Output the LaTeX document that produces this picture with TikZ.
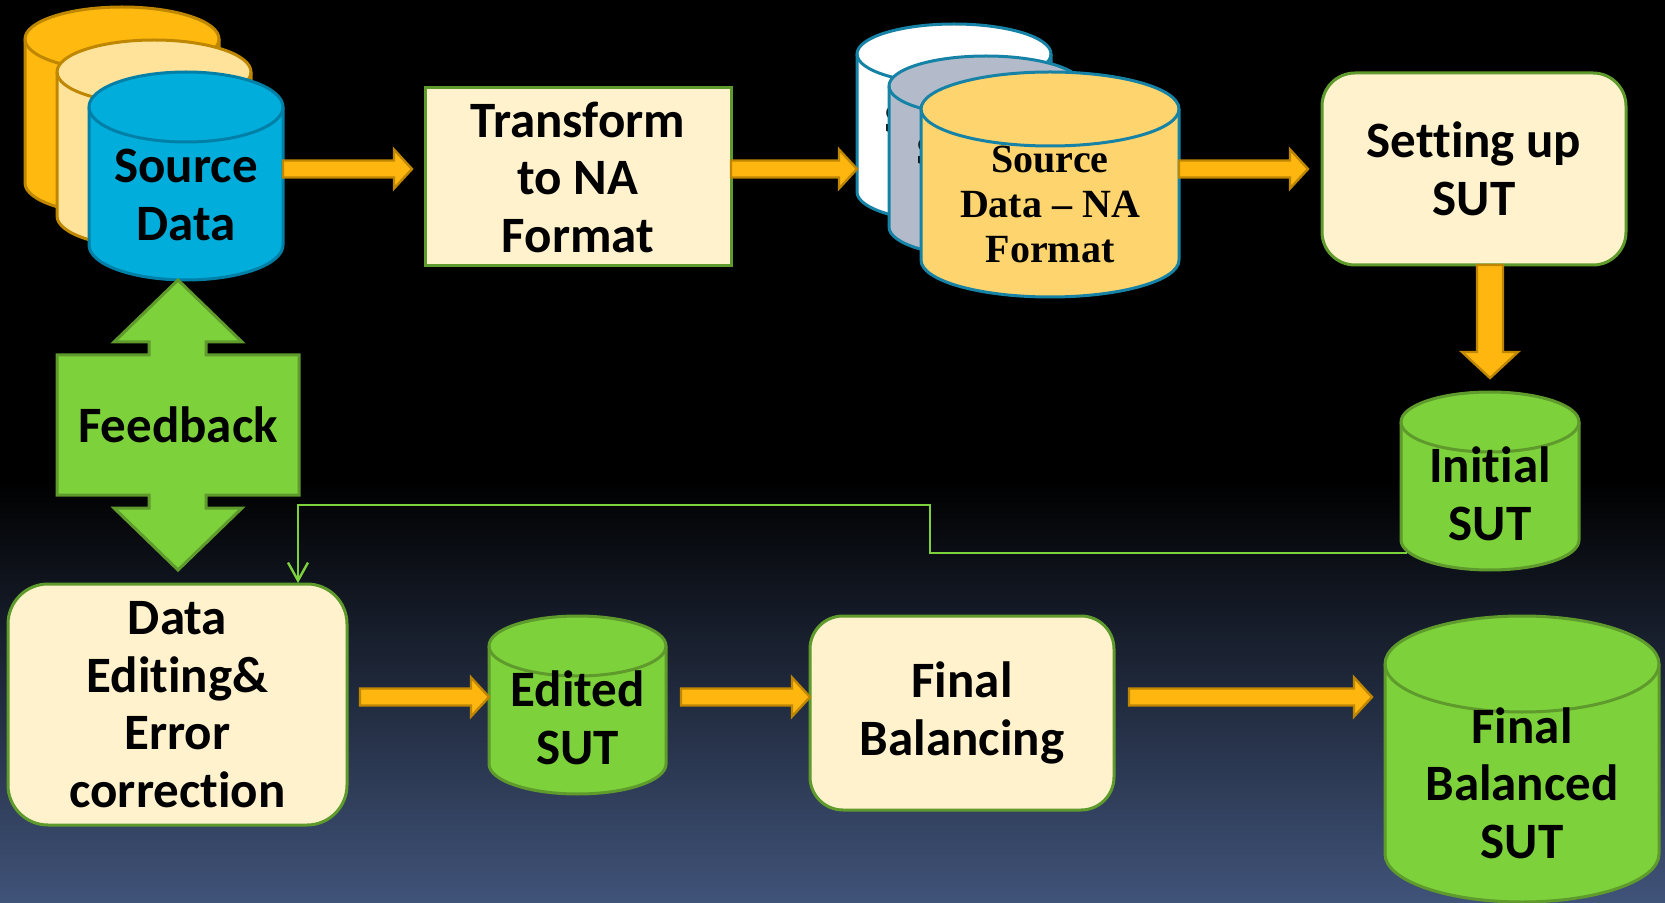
\documentclass[tikz,border=0pt]{standalone}
\usepackage{fontspec}
\setmainfont{Carlito}[Ligatures={TeX,NoCommon}]
\newfontfamily\timesfont{Liberation Serif}
\usetikzlibrary{calc,arrows.meta}

\definecolor{gold}{HTML}{FFB60F}
\definecolor{golddark}{HTML}{BF8700}
\definecolor{cream}{HTML}{FFF2CC}
\definecolor{leaf}{HTML}{7DD13B}
\definecolor{leafdark}{HTML}{5E9A2C}
\definecolor{skyblue}{HTML}{00ADDB}
\definecolor{skydark}{HTML}{0080A6}
\definecolor{orangedb}{HTML}{FFB90F}
\definecolor{creamdb}{HTML}{FFE39B}
\definecolor{slate}{HTML}{B3BBCA}
\definecolor{sand}{HTML}{FED46E}
\definecolor{teal}{HTML}{1683A6}
\definecolor{bgblue}{HTML}{405379}

\tikzset{
  lbl/.style={inner sep=0pt, outer sep=0pt, align=center, font=\fontsize{25.5}{28.75}\selectfont\bfseries},
  box/.style={lbl, draw=leafdark, fill=cream, line width=1.5pt},
  serif/.style={inner sep=0pt, outer sep=0pt, align=center, font=\timesfont\fontsize{20}{22.5}\selectfont\bfseries},
  hfat/.style={fill=gold, draw=golddark, line width=1.2pt,
    to path={let \p1=(\tikztostart), \p2=(\tikztotarget) in
      (\x1,\y1+4.25pt) -- (\x2-9pt,\y1+4.25pt) -- (\x2-9pt,\y1+9.75pt) -- (\x2,\y1)
      -- (\x2-9pt,\y1-9.75pt) -- (\x2-9pt,\y1-4.25pt) -- (\x1,\y1-4.25pt) -- cycle}},
  vfat/.style={fill=gold, draw=golddark, line width=1.2pt,
    to path={let \p1=(\tikztostart), \p2=(\tikztotarget) in
      (\x1-6.5pt,\y1) -- (\x1-6.5pt,\y2+13pt) -- (\x1-14pt,\y2+13pt) -- (\x1,\y2)
      -- (\x1+14pt,\y2+13pt) -- (\x1+6.5pt,\y2+13pt) -- (\x1+6.5pt,\y1) -- cycle}},
  link/.style={draw=leaf, line width=1.2pt, -{Straight Barb[length=9pt,width=10pt]}},
}

\begin{document}
\begin{tikzpicture}[x=0.5pt,y=-0.5pt]
\useasboundingbox (0,0) rectangle (1665,903);
%background
\fill[black] (0,0) rectangle (1665,903);
\shade[top color=black, bottom color=bgblue] (0,480) rectangle (1665,903);

%Source Data stack
\filldraw[fill=orangedb, draw=golddark, line width=1.5pt] (25,39) -- (25,183) arc[start angle=180,end angle=0,x radius=97,y radius=32] -- (219,39) arc[start angle=0,end angle=-180,x radius=97,y radius=32] -- cycle;
\draw[golddark, line width=1.5pt] (25,39) arc[start angle=180,end angle=0,x radius=97,y radius=32];
\filldraw[fill=creamdb, draw=golddark, line width=1.5pt] (57,72) -- (57,216) arc[start angle=180,end angle=0,x radius=97,y radius=32] -- (251,72) arc[start angle=0,end angle=-180,x radius=97,y radius=32] -- cycle;
\draw[golddark, line width=1.5pt] (57,72) arc[start angle=180,end angle=0,x radius=97,y radius=32];
\filldraw[fill=skyblue, draw=skydark, line width=1.5pt] (89,107) -- (89,245) arc[start angle=180,end angle=0,x radius=97,y radius=35] -- (283,107) arc[start angle=0,end angle=-180,x radius=97,y radius=35] -- cycle;
\draw[skydark, line width=1.5pt] (89,107) arc[start angle=180,end angle=0,x radius=97,y radius=35];
\node[lbl, minimum width=97pt] (src) at (186,195) {Source\\Data};

%Transform box
\node[box, minimum width=153pt, minimum height=89pt] (tform) at (578,177) {Transform\\to NA\\Format};

%NA format stack (only a sliver of the back labels shows)
\filldraw[fill=white, draw=teal, line width=1.5pt] (857,54) -- (857,192) arc[start angle=180,end angle=0,x radius=97,y radius=30] -- (1051,54) arc[start angle=0,end angle=-180,x radius=97,y radius=30] -- cycle;
\draw[teal, line width=1.5pt] (857,54) arc[start angle=180,end angle=0,x radius=97,y radius=30];
\node[serif, anchor=base west] (nab) at (884,133) {S};
\filldraw[fill=slate, draw=teal, line width=1.5pt] (889,86) -- (889,227) arc[start angle=180,end angle=0,x radius=97,y radius=30] -- (1083,86) arc[start angle=0,end angle=-180,x radius=97,y radius=30] -- cycle;
\draw[teal, line width=1.5pt] (889,86) arc[start angle=180,end angle=0,x radius=97,y radius=30];
\node[serif, anchor=base west] (nac) at (916,165) {S};
\filldraw[fill=sand, draw=teal, line width=1.5pt] (921,109) -- (921,260) arc[start angle=180,end angle=0,x radius=129,y radius=37] -- (1179,109) arc[start angle=0,end angle=-180,x radius=129,y radius=37] -- cycle;
\draw[teal, line width=1.5pt] (921,109) arc[start angle=180,end angle=0,x radius=129,y radius=37];
\node[serif] (na) at (1050,204) {Source\\Data – NA\\Format};

%Setting up SUT
\node[box, rounded corners=16.5pt, minimum width=152pt, minimum height=96pt] (setup) at (1474,169) {Setting up\\SUT};

%Initial SUT
\filldraw[fill=leaf, draw=leafdark, line width=1.5pt] (1401,422) -- (1401,540) arc[start angle=180,end angle=0,x radius=89,y radius=30] -- (1579,422) arc[start angle=0,end angle=-180,x radius=89,y radius=30] -- cycle;
\draw[leafdark, line width=1.5pt] (1401,422) arc[start angle=180,end angle=0,x radius=89,y radius=30];
\node[lbl, minimum width=89pt] (init) at (1490,494) {Initial\\SUT};

%Feedback double arrow
\filldraw[fill=leaf, draw=leafdark, line width=1.5pt] (178,280) -- (242,342) -- (206,342) -- (206,355) -- (299,355) -- (299,495) -- (206,495) -- (206,508) -- (242,508) -- (178,570) -- (114,508) -- (149,508) -- (149,495) -- (57,495) -- (57,355) -- (149,355) -- (149,342) -- (114,342) -- cycle;
\node[lbl] (fb) at (178,425) {Feedback};

%bottom row
\node[box, rounded corners=20pt, minimum width=169.5pt, minimum height=120.5pt] (edit) at (177.5,704.5) {Data\\Editing\&\\Error\\correction};
\filldraw[fill=leaf, draw=leafdark, line width=1.5pt] (489,646) -- (489,764) arc[start angle=180,end angle=0,x radius=88.5,y radius=30] -- (666,646) arc[start angle=0,end angle=-180,x radius=88.5,y radius=30] -- cycle;
\draw[leafdark, line width=1.5pt] (489,646) arc[start angle=180,end angle=0,x radius=88.5,y radius=30];
\node[lbl, minimum width=88.5pt] (edsut) at (577.5,718) {Edited\\SUT};
\node[box, rounded corners=16.5pt, minimum width=152pt, minimum height=97pt] (fbal) at (962,713) {Final\\Balancing};
\filldraw[fill=leaf, draw=leafdark, line width=1.5pt] (1385,664) -- (1385,854) arc[start angle=180,end angle=0,x radius=137,y radius=48] -- (1659,664) arc[start angle=0,end angle=-180,x radius=137,y radius=48] -- cycle;
\draw[leafdark, line width=1.5pt] (1385,664) arc[start angle=180,end angle=0,x radius=137,y radius=48];
\node[lbl, minimum width=137pt] (final) at (1522,783) {Final\\Balanced\\SUT};

%green feedback line
\draw[link] ($(init.west)+(6,59)$) -| (930,505) -| ($(edit.north)+(120.5,-1)$);

%block arrows
\draw[hfat] ($(src.east)+(0,-26)$) to ($(tform.west)+(-13,0)$);
\draw[hfat] ($(tform.east)+(0,-8)$) to ($(na)+(-193,0)$);
\draw[hfat] ($(na)+(129,-35)$) to ($(setup.west)+(-14,0)$);
\draw[vfat] ($(setup.south)+(16,0)$) to ($(init)+(0,-116)$);
\draw[hfat] ($(edit.east)+(13,-7.5)$) to (edsut.west);
\draw[hfat] ($(edsut.east)+(15,-21)$) to (fbal.west);
\draw[hfat] ($(fbal.east)+(15,-16)$) to ($(final.west)+(-13,0)$);
\end{tikzpicture}
\end{document}
